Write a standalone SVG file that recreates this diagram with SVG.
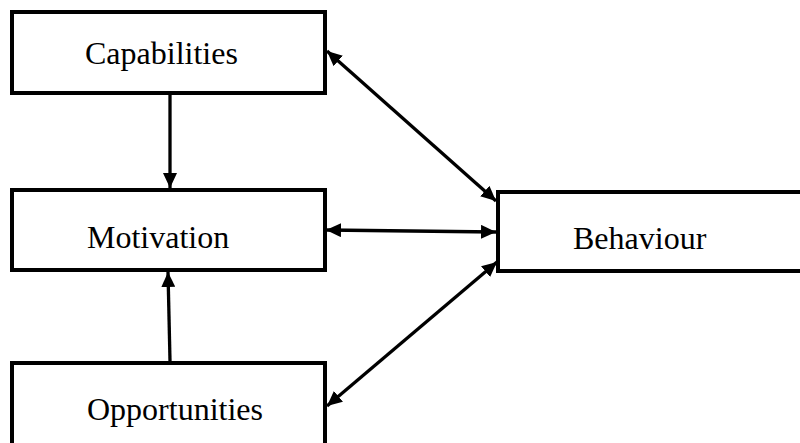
<svg xmlns="http://www.w3.org/2000/svg" width="800" height="443" viewBox="0 0 800 443">
  <style>
    .box { fill: #ffffff; stroke: #000000; stroke-width: 4; }
    .label { font-family: "Liberation Serif", "Times New Roman", serif; font-size: 32px; fill: #000000; }
    .edge { stroke: #000000; stroke-width: 3.3; fill: none; }
  </style>
  <defs>
    <marker id="arrow" viewBox="0 0 15 14" refX="15" refY="7" markerWidth="15" markerHeight="14" markerUnits="userSpaceOnUse" orient="auto-start-reverse">
      <path d="M0,0 L15,7 L0,14 Z" fill="#000000"/>
    </marker>
  </defs>

  <g id="capabilities">
    <rect class="box" x="12" y="12" width="313" height="81"/>
    <text class="label" x="85" y="64">Capabilities</text>
  </g>

  <g id="motivation">
    <rect class="box" x="12" y="190" width="313" height="80"/>
    <text class="label" x="87" y="248">Motivation</text>
  </g>

  <g id="opportunities">
    <rect class="box" x="12" y="363" width="313" height="90"/>
    <text class="label" x="87" y="420">Opportunities</text>
  </g>

  <g id="behaviour">
    <rect class="box" x="498" y="192" width="320" height="79"/>
    <text class="label" x="573" y="249">Behaviour</text>
  </g>

  <g id="connectors">
    <line class="edge" x1="170" y1="93" x2="170" y2="188" marker-end="url(#arrow)"/>
    <line class="edge" x1="170" y1="361" x2="168" y2="272" marker-end="url(#arrow)"/>
    <line class="edge" x1="327" y1="51" x2="496" y2="201" marker-start="url(#arrow)" marker-end="url(#arrow)"/>
    <line class="edge" x1="326" y1="230" x2="496" y2="232" marker-start="url(#arrow)" marker-end="url(#arrow)"/>
    <line class="edge" x1="327" y1="406" x2="497" y2="262" marker-start="url(#arrow)" marker-end="url(#arrow)"/>
  </g>
</svg>
